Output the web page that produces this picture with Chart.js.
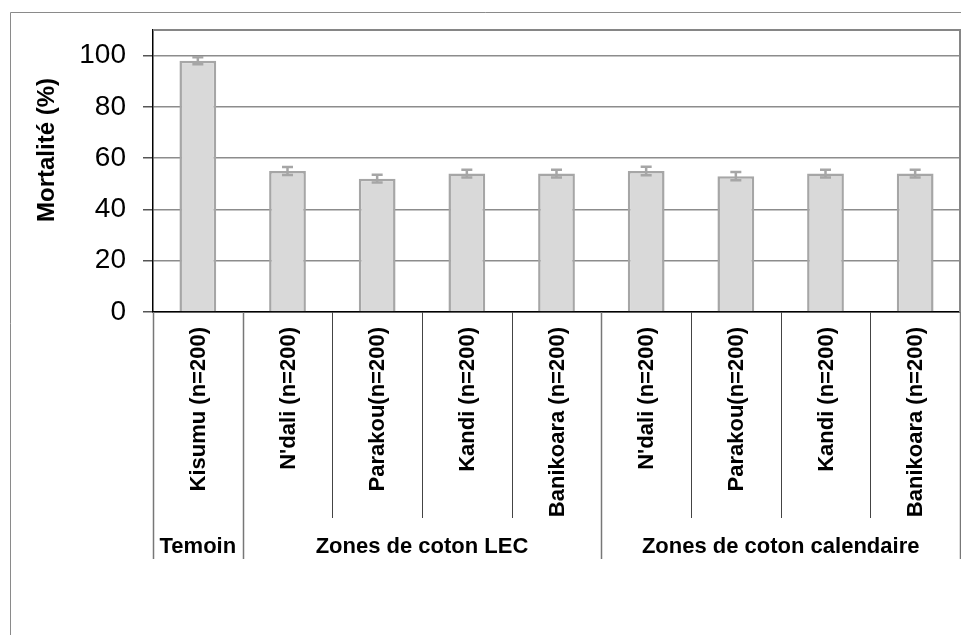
<!DOCTYPE html>
<html>
<head>
<meta charset="utf-8">
<script src="https://cdn.jsdelivr.net/npm/chart.js@4.4.1/dist/chart.umd.min.js"></script>
<style>
  html, body { margin: 0; padding: 0; background: #fff; }
  canvas { display: block; }
</style>
</head>
<body>
<canvas id="mortChart" width="961" height="635"></canvas>
<script>
// ---- DATA ----
const sites = ["Kisumu (n=200)", "N'dali (n=200)", "Parakou(n=200)", "Kandi (n=200)", "Banikoara (n=200)",
               "N'dali (n=200)", "Parakou(n=200)", "Kandi (n=200)", "Banikoara (n=200)"];
const mortality = [98, 55, 52, 54, 54, 55, 53, 54, 54];
const mortalityErr = [1.4, 1.6, 1.5, 1.5, 1.5, 1.7, 1.6, 1.5, 1.5];
const groupNames = ["Temoin", "Zones de coton LEC", "Zones de coton calendaire"];
const groupSizes = [1, 4, 4];
const yTicks = [0, 20, 40, 60, 80, 100];
const yTitle = "Mortalité (%)";

const FONT = "Arial, 'Liberation Sans', sans-serif";
const BAR_GREY = "#a6a6a6";

// error bars drawn on top of the bars
const errorBarPlugin = {
  id: "errorBars",
  afterDatasetsDraw(chart) {
    const ctx = chart.ctx;
    const y = chart.scales.y;
    const meta = chart.getDatasetMeta(0);
    ctx.save();
    ctx.strokeStyle = BAR_GREY;
    ctx.lineWidth = 2.5;
    meta.data.forEach((bar, i) => {
      const top = y.getPixelForValue(mortality[i] + mortalityErr[i]);
      const bot = y.getPixelForValue(mortality[i] - mortalityErr[i]);
      ctx.beginPath();
      ctx.moveTo(bar.x, top); ctx.lineTo(bar.x, bot);
      ctx.moveTo(bar.x - 5.5, top); ctx.lineTo(bar.x + 5.5, top);
      ctx.moveTo(bar.x - 5.5, bot); ctx.lineTo(bar.x + 5.5, bot);
      ctx.stroke();
    });
    ctx.restore();
  }
};

// outer frame, plot frame, axis title, category table below the axis
const tablePlugin = {
  id: "catTable",
  beforeDraw(chart) {
    const ctx = chart.ctx;
    ctx.save();
    ctx.fillStyle = "#fff";
    ctx.fillRect(0, 0, chart.width, chart.height);
    ctx.strokeStyle = "#8a8a8a";
    ctx.lineWidth = 1;
    ctx.beginPath();
    ctx.moveTo(10.5, chart.height); ctx.lineTo(10.5, 12.5); ctx.lineTo(chart.width, 12.5);
    ctx.stroke();
    ctx.restore();
  },
  afterDraw(chart) {
    const ctx = chart.ctx;
    const x = chart.scales.x;
    const area = chart.chartArea;
    ctx.save();
    // plot frame top / right
    ctx.strokeStyle = "#868686";
    ctx.lineWidth = 2;
    ctx.beginPath();
    ctx.moveTo(area.left, area.top); ctx.lineTo(area.right, area.top); ctx.lineTo(area.right, area.bottom);
    ctx.stroke();

    // y axis title
    ctx.fillStyle = "#000";
    ctx.font = "bold 24px " + FONT;
    ctx.textAlign = "center";
    ctx.textBaseline = "middle";
    ctx.save();
    ctx.translate(47, 150);
    ctx.rotate(-Math.PI / 2);
    ctx.fillText(yTitle, 0, 0);
    ctx.restore();

    // separators
    const groupEnds = [];
    let acc = 0;
    groupSizes.forEach(s => { acc += s; groupEnds.push(acc); });
    for (let i = 0; i <= sites.length; i++) {
      const px = Math.round(x.getPixelForValue(i - 0.5)) + 0.5;
      const isGroup = i === 0 || groupEnds.includes(i);
      ctx.strokeStyle = isGroup ? "#777" : "#444";
      ctx.lineWidth = isGroup ? 1.5 : 1;
      ctx.beginPath();
      ctx.moveTo(px, area.bottom);
      ctx.lineTo(px, isGroup ? 559 : 518);
      ctx.stroke();
    }

    // rotated category labels
    ctx.font = "bold 22px " + FONT;
    ctx.textAlign = "right";
    ctx.textBaseline = "middle";
    sites.forEach((s, i) => {
      const px = x.getPixelForValue(i);
      ctx.save();
      ctx.translate(px + 1, 327);
      ctx.rotate(-Math.PI / 2);
      ctx.fillText(s, 0, 0);
      ctx.restore();
    });

    // group labels
    ctx.textAlign = "center";
    ctx.textBaseline = "alphabetic";
    let start = 0;
    groupNames.forEach((g, k) => {
      const end = start + groupSizes[k];
      const a = x.getPixelForValue(start - 0.5);
      const b = x.getPixelForValue(end - 0.5);
      ctx.fillText(g, (a + b) / 2, 553);
      start = end;
    });
    ctx.restore();
  }
};

new Chart(document.getElementById("mortChart"), {
  type: "bar",
  data: {
    labels: sites,
    datasets: [{
      data: mortality,
      backgroundColor: "#d9d9d9",
      borderColor: BAR_GREY,
      borderWidth: 2.5,
      categoryPercentage: 1,
      barPercentage: 0.41
    }]
  },
  options: {
    responsive: false,
    animation: false,
    layout: { padding: { left: 0, top: 30, right: 1, bottom: 0 } },
    plugins: { legend: { display: false }, tooltip: { enabled: false } },
    scales: {
      x: {
        ticks: { display: false },
        grid: { display: false },
        border: { display: true, color: "#000", width: 1.5 },
        afterFit: s => { s.height = 635 - 312; s.paddingLeft = 0; s.paddingRight = 0; }
      },
      y: {
        min: 0,
        max: 110,
        afterBuildTicks: s => { s.ticks = yTicks.map(v => ({ value: v })); },
        afterFit: s => { s.width = 153; s.paddingTop = 0; s.paddingBottom = 0; },
        ticks: {
          color: "#000",
          padding: 17,
          font: { family: FONT, size: 28 },
          callback: v => v
        },
        grid: { color: "#8c8c8c", lineWidth: 1.5, tickLength: 10, tickColor: "#555" },
        border: { display: true, color: "#000", width: 1.5 }
      }
    }
  },
  plugins: [errorBarPlugin, tablePlugin]
});
</script>
</body>
</html>
